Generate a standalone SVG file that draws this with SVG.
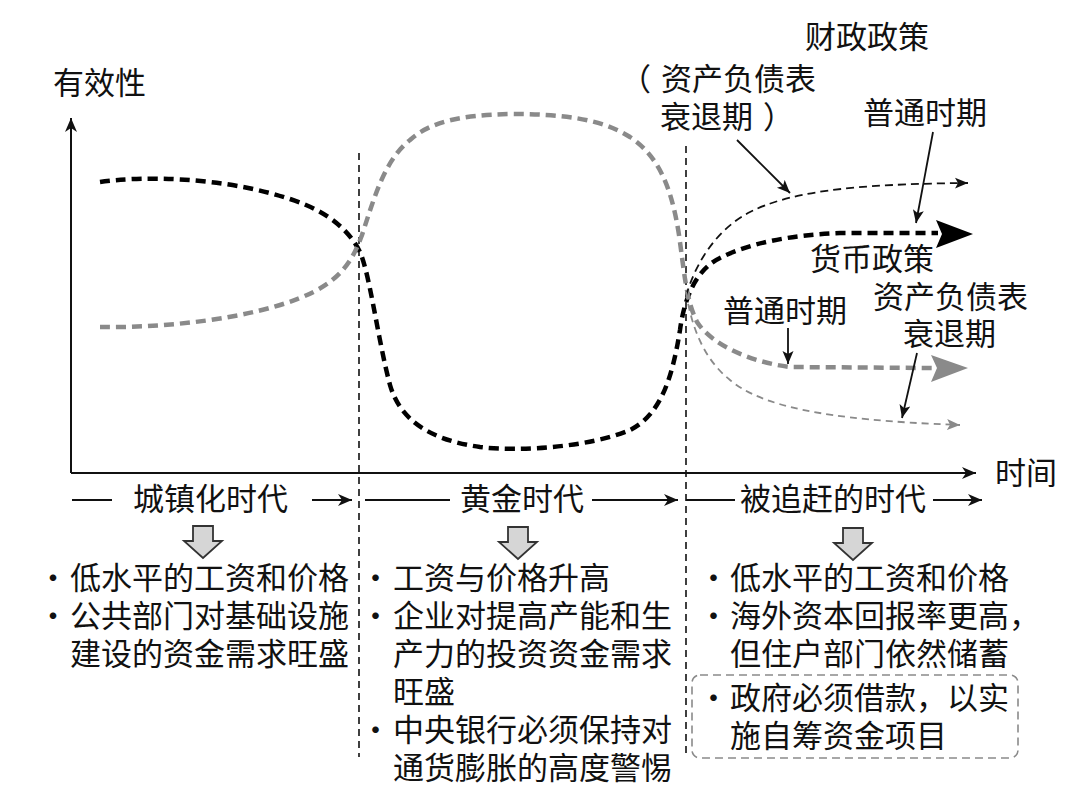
<svg xmlns="http://www.w3.org/2000/svg" width="1088" height="806" viewBox="0 0 1088 806">
<style>
text{font-family:"Noto Sans CJK SC","Noto Sans",sans-serif;font-size:31px;fill:#111}
.ax{stroke:#111;stroke-width:2;fill:none}
.div{stroke:#111;stroke-width:1.6;stroke-dasharray:7 5;fill:none}
.thickK{stroke:#000;stroke-width:4.5;stroke-dasharray:10 6;fill:none}
.thickG{stroke:#8a8a8a;stroke-width:4.5;stroke-dasharray:10 6;fill:none}
.thinK{stroke:#111;stroke-width:1.8;stroke-dasharray:8 5;fill:none}
.thinG{stroke:#8a8a8a;stroke-width:1.8;stroke-dasharray:7 5;fill:none}
.ann{stroke:#111;stroke-width:1.8;fill:none}
.era{stroke:#111;stroke-width:2;fill:none}
.blk{fill:#d6d6d6;stroke:#333;stroke-width:1.8;stroke-linejoin:miter}
</style>
<defs>
<marker id="ah" markerUnits="userSpaceOnUse" markerWidth="16" markerHeight="14" refX="14" refY="7" orient="auto">
<path d="M0,1 L14,7 L0,13 L4,7 Z" fill="#111"/>
</marker>
<marker id="ahS" markerUnits="userSpaceOnUse" markerWidth="16" markerHeight="14" refX="13" refY="6" orient="auto">
<path d="M0,0.5 L13,6 L0,11.5 L3,6 Z" fill="#111"/>
</marker>
<marker id="ahG" markerUnits="userSpaceOnUse" markerWidth="16" markerHeight="14" refX="13" refY="6" orient="auto">
<path d="M0,0.5 L13,6 L0,11.5 L3,6 Z" fill="#8a8a8a"/>
</marker>
</defs>
<rect width="1088" height="806" fill="#fff"/>

<g id="axes">
<path class="ax" d="M71,473 L71,118" marker-end="url(#ah)"/>
<path class="ax" d="M71,473 L976,473" marker-end="url(#ah)"/>
<text x="53" y="94">有效性</text>
<text x="995" y="484">时间</text>
</g>

<g id="dividers">
<path class="div" d="M359,153 L359,757"/>
<path class="div" d="M686,146 L686,758"/>
</g>

<g id="connectors">
<path id="curve-monetary" class="thickK" d="M100,182 C140,176 220,176 290,199 C330,212 350,232 360,252 C370,275 378,340 390,385 C400,420 430,440 480,447 C520,452 590,447 630,430 C660,415 672,380 680,330 C684,300 695,270 720,258 C750,243 790,235 840,233 L938,233"/>
<path d="M973,234 L936,220 L942,234 L936,248 Z" fill="#000"/>
<path id="curve-fiscal" class="thickG" d="M100,327 C170,328 250,318 300,298 C340,282 352,262 362,235 C375,195 385,160 410,140 C430,122 460,115 510,114 C560,114 600,118 630,137 C660,157 672,190 679,235 C684,270 686,300 697,322 C712,345 750,362 790,367 L933,368"/>
<path d="M968,368 L931,355 L937,368 L931,382 Z" fill="#8a8a8a"/>
<path id="curve-fiscal-bsr" class="thinK" d="M686,296 C695,265 715,230 750,212 C790,192 850,184 968,183" marker-end="url(#ahS)"/>
<path id="curve-monetary-bsr" class="thinG" d="M686,292 C692,330 705,360 730,380 C760,405 820,420 960,425" marker-end="url(#ahG)"/>
<path class="ann" d="M737,140 L790,193" marker-end="url(#ahS)"/>
<path class="ann" d="M933,132 L916,223" marker-end="url(#ahS)"/>
<path class="ann" d="M788,328 L788,364" marker-end="url(#ahS)"/>
<path class="ann" d="M917,353 L902,418" marker-end="url(#ahS)"/>
</g>

<g id="label-fiscal">
<text x="805" y="48">财政政策</text>
<text><tspan x="620" y="90">（</tspan><tspan x="661" y="90">资产负债表</tspan><tspan x="660" y="128">衰退期</tspan><tspan x="763" y="128">）</tspan></text>
<text x="863" y="124">普通时期</text>
</g>

<g id="label-monetary">
<text x="810" y="270">货币政策</text>
<text x="723" y="322">普通时期</text>
<text><tspan x="873" y="308">资产负债表</tspan><tspan x="903" y="345">衰退期</tspan></text>
</g>

<g id="era-urbanization">
<path class="era" d="M72,500 L112,500"/>
<path class="era" d="M312,500 L352,500" marker-end="url(#ah)"/>
<text x="133" y="510">城镇化时代</text>
<path class="blk" d="M193,526 L213,526 L213,541 L222,541 L203,558 L184,541 L193,541 Z"/>
<text><tspan x="37.5" y="589">·</tspan><tspan x="70" y="589">低水平的工资和价格</tspan><tspan x="37.5" y="627">·</tspan><tspan x="70" y="627">公共部门对基础设施</tspan><tspan x="70" y="665">建设的资金需求旺盛</tspan></text>
</g>

<g id="era-golden">
<path class="era" d="M365,500 L450,500"/>
<path class="era" d="M592,500 L678,500" marker-end="url(#ah)"/>
<text x="460" y="510">黄金时代</text>
<path class="blk" d="M508,527 L528,527 L528,542 L537,542 L518,559 L499,542 L508,542 Z"/>
<text><tspan x="360" y="589">·</tspan><tspan x="393" y="589">工资与价格升高</tspan><tspan x="360" y="627">·</tspan><tspan x="393" y="627">企业对提高产能和生</tspan><tspan x="393" y="665">产力的投资资金需求</tspan><tspan x="393" y="703">旺盛</tspan><tspan x="360" y="741">·</tspan><tspan x="393" y="741">中央银行必须保持对</tspan><tspan x="393" y="779">通货膨胀的高度警惕</tspan></text>
</g>

<g id="era-catchup">
<path class="era" d="M686,500 L735,500"/>
<path class="era" d="M933,500 L982,500" marker-end="url(#ah)"/>
<text x="740" y="510">被追赶的时代</text>
<path class="blk" d="M843,528 L863,528 L863,543 L872,543 L853,560 L834,543 L843,543 Z"/>
<text><tspan x="698" y="589">·</tspan><tspan x="730" y="589">低水平的工资和价格</tspan><tspan x="698" y="627">·</tspan><tspan x="730" y="627">海外资本回报率更高，</tspan><tspan x="730" y="665">但住户部门依然储蓄</tspan></text>
<rect x="692" y="675" width="326" height="83" rx="8" fill="none" stroke="#8a8a8a" stroke-width="1.6" stroke-dasharray="8 5"/>
<text><tspan x="698" y="709">·</tspan><tspan x="730" y="709">政府必须借款，以实</tspan><tspan x="730" y="747">施自筹资金项目</tspan></text>
</g>
</svg>
